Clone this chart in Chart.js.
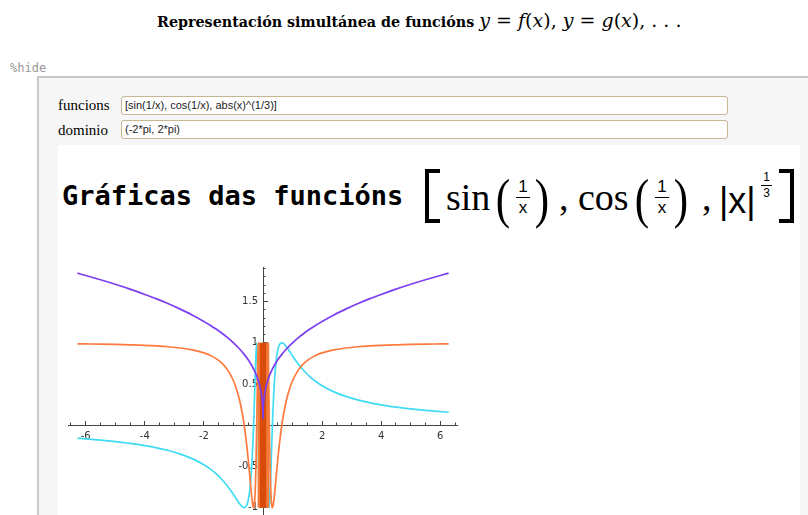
<!DOCTYPE html>
<html>
<head>
<meta charset="utf-8">
<script src="https://cdn.jsdelivr.net/npm/chart.js@4.4.0/dist/chart.umd.min.js"></script>
<style>
  body { margin: 0; width: 808px; height: 515px; overflow: hidden; background: #fff; position: relative; color: #000; }
  .abs { position: absolute; white-space: nowrap; line-height: 1; }
  #title { left: 157px; top: 11px; font-family: "DejaVu Serif", serif; }
  #title b { font-size: 14.3px; }
  #title .m { font-size: 19px; font-family: "DejaVu Serif", serif; }
  #hide { left: 10px; top: 61px; font: 12px "DejaVu Sans Mono", monospace; color: #999; }
  #cell { left: 37px; top: 76px; width: 790px; height: 460px; border-left: 2px solid #c8c8c8; border-top: 2px solid #c8c8c8; background: #f6f6f6; }
  .lab { left: 58px; font: 15px "Liberation Serif", serif; }
  .inp { left: 121px; width: 602px; height: 17px; border: 1px solid #c6b692; border-radius: 3px; background: #fff;
         font: 11px "Liberation Sans", sans-serif; line-height: 17px; padding-left: 3px; color: #222; }
  #out { left: 58px; top: 145px; width: 742px; height: 380px; background: #fff; }
  #head { left: 62px; top: 180px; font: bold 27px "DejaVu Sans Mono", monospace; }
  .br { position: absolute; top: 169px; width: 11px; height: 46px; border: 4px solid #000; }
  .fn { font: 38px "Liberation Serif", serif; top: 175px; }
  .par { font: 54px "Liberation Serif", serif; top: 168px; transform: scaleX(0.8); }
  .frac { position: absolute; top: 178px; width: 14px; text-align: center; font: 17px "Liberation Sans", sans-serif; line-height: 1; }
  .frac i { display: block; border-top: 1.5px solid #000; margin: 2px 0 1px; height: 0; }
  .sans { font-family: "Liberation Sans", sans-serif; }
  #plot { position: absolute; left: 68px; top: 267px; }
</style>
</head>
<body>
<div class="abs" id="title"><b>Representación simultánea de funcións</b> <span class="m"><i>y</i> = <i>f</i>(<i>x</i>), <i>y</i> = <i>g</i>(<i>x</i>), . . .</span></div>
<div class="abs" id="hide">%hide</div>
<div class="abs" id="cell"></div>
<div class="abs lab" style="top:97px">funcions</div>
<div class="abs inp" style="top:96px">[sin(1/x), cos(1/x), abs(x)^(1/3)]</div>
<div class="abs lab" style="top:122px">dominio</div>
<div class="abs inp" style="top:120px">(-2*pi, 2*pi)</div>
<div class="abs" id="out"></div>
<div class="abs" id="head">Gráficas das funcións</div>

<div class="br" style="left:425px;border-right:none"></div>
<div class="abs fn" style="left:446px">sin</div>
<div class="abs par" style="left:494px">(</div>
<div class="frac" style="left:516px">1<i></i>x</div>
<div class="abs par" style="left:533px">)</div>
<div class="abs fn" style="left:559px">,</div>
<div class="abs fn" style="left:578px">cos</div>
<div class="abs par" style="left:633px">(</div>
<div class="frac" style="left:655px">1<i></i>x</div>
<div class="abs par" style="left:672px">)</div>
<div class="abs fn" style="left:702px">,</div>
<div class="abs fn sans" style="left:719px;top:180px;font-size:36px">|x|</div>
<div class="frac" style="left:761px;top:171px;font-size:12px;width:11px">1<i></i>3</div>
<div class="br" style="left:779px;border-left:none"></div>

<canvas id="plot" width="390" height="253"></canvas>

<script>
// sample points shared by sin(1/x) and cos(1/x)
const trigX = [-6.283, -6.0, -5.5, -5.0, -4.5, -4.0, -3.6, -3.2, -2.8, -2.4, -2.0, -1.8, -1.6, -1.4, -1.2, -1.0,
  -0.9, -0.8, -0.7, -0.637, -0.6, -0.55, -0.5, -0.45, -0.4, -0.37, -0.34, -0.318, -0.3, -0.27, -0.24, -0.212,
  -0.18, -0.159, -0.14, -0.127,
  0.127, 0.14, 0.159, 0.18, 0.212, 0.24, 0.27, 0.3, 0.318, 0.34, 0.37, 0.4, 0.45, 0.5, 0.55, 0.6, 0.637, 0.7,
  0.8, 0.9, 1.0, 1.2, 1.4, 1.6, 1.8, 2.0, 2.4, 2.8, 3.2, 3.6, 4.0, 4.5, 5.0, 5.5, 6.0, 6.283];
const sinY = [-0.158, -0.166, -0.181, -0.199, -0.220, -0.247, -0.274, -0.307, -0.350, -0.405, -0.479, -0.527, -0.585, -0.655, -0.740, -0.841,
  -0.896, -0.949, -0.990, -1.000, -0.995, -0.970, -0.909, -0.796, -0.598, -0.426, -0.199, -0.003, 0.190, 0.533, 0.855, 1.000,
  0.665, -0.006, -0.758, -1.000,
  1.000, 0.758, 0.006, -0.665, -1.000, -0.855, -0.533, -0.190, 0.003, 0.199, 0.426, 0.598, 0.796, 0.909, 0.970, 0.995, 1.000, 0.990,
  0.949, 0.896, 0.841, 0.740, 0.655, 0.585, 0.527, 0.479, 0.405, 0.350, 0.307, 0.274, 0.247, 0.220, 0.199, 0.181, 0.166, 0.158];
const cosY = [0.987, 0.986, 0.984, 0.980, 0.975, 0.969, 0.962, 0.952, 0.937, 0.914, 0.878, 0.850, 0.811, 0.756, 0.672, 0.540,
  0.444, 0.315, 0.142, 0.001, -0.096, -0.245, -0.416, -0.606, -0.801, -0.905, -0.980, -1.000, -0.982, -0.846, -0.519, 0.005,
  0.747, 1.000, 0.653, -0.020,
  -0.020, 0.653, 1.000, 0.747, 0.005, -0.519, -0.846, -0.982, -1.000, -0.980, -0.905, -0.801, -0.606, -0.416, -0.245, -0.096, 0.001, 0.142,
  0.315, 0.444, 0.540, 0.672, 0.756, 0.811, 0.850, 0.878, 0.914, 0.937, 0.952, 0.962, 0.969, 0.975, 0.980, 0.984, 0.986, 0.987];

// |x|^(1/3)
const cbrtX = [-6.283, -6.0, -5.5, -5.0, -4.5, -4.0, -3.6, -3.2, -2.8, -2.4, -2.0, -1.8, -1.6, -1.4, -1.2, -1.0,
  -0.8, -0.637, -0.5, -0.4, -0.3, -0.212, -0.159, -0.1, -0.07, -0.04, -0.02, -0.01, -0.005, -0.002, -0.0005,
  0.0005, 0.002, 0.005, 0.01, 0.02, 0.04, 0.07, 0.1, 0.159, 0.212, 0.3, 0.4, 0.5, 0.637, 0.8,
  1.0, 1.2, 1.4, 1.6, 1.8, 2.0, 2.4, 2.8, 3.2, 3.6, 4.0, 4.5, 5.0, 5.5, 6.0, 6.283];
const cbrtY = [1.845, 1.817, 1.765, 1.710, 1.651, 1.587, 1.533, 1.474, 1.409, 1.339, 1.260, 1.216, 1.170, 1.119, 1.063, 1.000,
  0.928, 0.860, 0.794, 0.737, 0.669, 0.596, 0.542, 0.464, 0.412, 0.342, 0.271, 0.215, 0.171, 0.126, 0.079,
  0.079, 0.126, 0.171, 0.215, 0.271, 0.342, 0.412, 0.464, 0.542, 0.596, 0.669, 0.737, 0.794, 0.860, 0.928,
  1.000, 1.063, 1.119, 1.170, 1.216, 1.260, 1.339, 1.409, 1.474, 1.533, 1.587, 1.651, 1.710, 1.765, 1.817, 1.845];

// near x = 0 the oscillation fills the strip between -1 and 1
const bandX = [-0.19, 0.22];
const coreX = [-0.11, 0.115];
const bandY = [1, 1];

const xMajor = [-6, -4, -2, 2, 4, 6];
const yMajor = [-1, -0.5, 0.5, 1, 1.5];

const pts = (xs, ys) => xs.map((x, i) => ({ x: x, y: ys[i] }));
const AXIS = '#444';

// axes sit inside the plot, so they should not push the plot area inwards
function noPad(s) {
  s.paddingTop = 0; s.paddingBottom = 0; s.paddingLeft = 0; s.paddingRight = 0;
}

function line(label, data, color, order) {
  return { label: label, data: data, borderColor: color, borderWidth: 1.7, pointRadius: 0,
           cubicInterpolationMode: 'monotone', fill: false, order: order };
}

function band(label, data, color, order) {
  return { label: label, data: data, backgroundColor: color, borderWidth: 0, pointRadius: 0,
           fill: { value: -1 }, order: order };
}

new Chart(document.getElementById('plot'), {
  type: 'line',
  data: {
    datasets: [
      line('abs(x)^(1/3)', pts(cbrtX, cbrtY), '#7c3ff0', 0),
      band('core', pts(coreX, bandY), '#d84b08', 1),
      band('band', pts(bandX, bandY), '#f47a3a', 2),
      line('cos(1/x)', pts(trigX, cosY), '#ff7a3c', 3),
      line('sin(1/x)', pts(trigX, sinY), '#3fdcf3', 4)
    ]
  },
  options: {
    responsive: false,
    animation: false,
    devicePixelRatio: 1,
    layout: { padding: 0 },
    plugins: { legend: { display: false }, tooltip: { enabled: false } },
    scales: {
      x: {
        type: 'linear', min: -6.6, max: 6.6, position: { y: 0 },
        afterBuildTicks: s => { s.ticks = xMajor.map(v => ({ value: v })); },
        afterFit: noPad,
        grid: { drawOnChartArea: false, tickLength: -5, color: AXIS },
        border: { color: AXIS, width: 1 },
        ticks: { autoSkip: false, maxRotation: 0, padding: 10, color: '#333',
                 font: { family: 'DejaVu Sans', size: 10 }, callback: v => String(v) }
      },
      y: {
        type: 'linear', min: -1.15, max: 1.92, position: { x: 0 },
        afterBuildTicks: s => { s.ticks = yMajor.map(v => ({ value: v })); },
        afterFit: noPad,
        grid: { drawOnChartArea: false, tickLength: -5, color: AXIS },
        border: { color: AXIS, width: 1 },
        ticks: { autoSkip: false, color: '#333', font: { family: 'DejaVu Sans', size: 10 },
                 callback: v => String(v) + '\u2002' }
      },
      xm: {
        axis: 'x', type: 'linear', min: -6.6, max: 6.6, position: { y: 0 },
        afterFit: noPad,
        grid: { drawOnChartArea: false, tickLength: -2.5, color: AXIS },
        border: { display: false },
        ticks: { display: false, stepSize: 0.5, includeBounds: false }
      },
      ym: {
        axis: 'y', type: 'linear', min: -1.15, max: 1.92, position: { x: 0 },
        afterFit: noPad,
        grid: { drawOnChartArea: false, tickLength: -2.5, color: AXIS },
        border: { display: false },
        ticks: { display: false, stepSize: 0.1, includeBounds: false }
      }
    }
  }
});
</script>
</body>
</html>
